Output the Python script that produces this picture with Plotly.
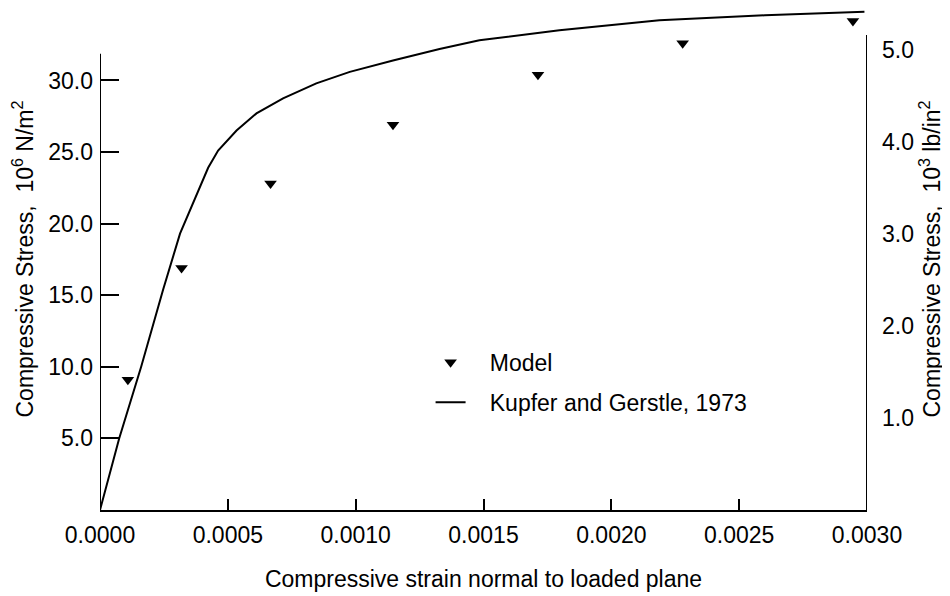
import plotly.graph_objects as go

# model points (strain, stress in 10^6 N/m^2)
model_strain = [0.000109, 0.000319, 0.000667, 0.001146, 0.001713, 0.002279, 0.002945]
model_stress = [9.1, 16.9, 22.8, 26.9, 30.4, 32.6, 34.15]

# Kupfer and Gerstle, 1973 curve
kg_strain = [0.0, 0.000075, 0.000161, 0.000247, 0.000313, 0.000391, 0.000423, 0.000462,
             0.000534, 0.000612, 0.000716, 0.000846, 0.000977, 0.001146, 0.001328,
             0.001484, 0.001797, 0.002188, 0.0026, 0.00299]
kg_stress = [0.0, 5.0, 10.0, 15.4, 19.3, 22.6, 23.9, 25.1,
             26.5, 27.7, 28.75, 29.8, 30.6, 31.4, 32.2,
             32.8, 33.5, 34.2, 34.55, 34.8]

x_ticks = [0.0, 0.0005, 0.0010, 0.0015, 0.0020, 0.0025, 0.0030]
left_ticks = [5, 10, 15, 20, 25, 30]
right_ticks = [1, 2, 3, 4, 5]

font = dict(family="Liberation Sans, Arial, Helvetica, sans-serif", size=23, color="black")
gap = "\u00a0\u00a0\u00a0"

fig = go.Figure()
fig.add_trace(go.Scatter(
    x=model_strain, y=model_stress, mode="markers", name=gap + "Model",
    legendgroup="a",
    marker=dict(symbol="triangle-down", size=11, color="black"),
    cliponaxis=False,
))
fig.add_trace(go.Scatter(
    x=kg_strain, y=kg_stress, mode="lines", name=gap + "Kupfer and Gerstle, 1973",
    legendgroup="b",
    line=dict(color="black", width=2),
))
# empty trace so the right-hand (lb/in^2) axis is drawn
fig.add_trace(go.Scatter(x=[None], y=[None], yaxis="y2", showlegend=False,
                         hoverinfo="skip"))

# axis lines of different heights, as in the original figure
fig.add_shape(type="line", xref="x", yref="y", x0=0, x1=0, y0=0, y1=31.87,
              line=dict(color="black", width=2))
fig.add_shape(type="line", xref="x", yref="y", x0=0.003, x1=0.003, y0=0, y1=33.17,
              line=dict(color="black", width=2))

fig.update_layout(
    width=942, height=588,
    margin=dict(l=92, r=83, t=0, b=86, autoexpand=False),
    paper_bgcolor="white", plot_bgcolor="white",
    font=font,
    legend=dict(x=0.431, y=0.337, xanchor="left", yanchor="top",
                font=font, bgcolor="rgba(0,0,0,0)",
                traceorder="grouped", tracegroupgap=7),
    xaxis=dict(
        range=[0, 0.003], tickvals=x_ticks, tickformat=".4f",
        showline=True, linecolor="black", linewidth=2,
        ticks="inside", ticklen=11, tickwidth=2, tickcolor="black",
        showgrid=False, zeroline=False, ticklabelstandoff=3,
        title=dict(text="Compressive strain normal to loaded plane", standoff=24, font=font),
    ),
    yaxis=dict(
        range=[0, 35.06], tickvals=left_ticks, tickformat=".1f",
        showline=False, ticks="inside", ticklen=19, tickwidth=2, tickcolor="black",
        showgrid=False, zeroline=False, ticklabelstandoff=6,
        title=dict(text="Compressive Stress,  10<sup>6</sup> N/m<sup>2</sup>", standoff=12, font=font),
    ),
    yaxis2=dict(
        overlaying="y", side="right", range=[0, 5.457], tickvals=right_ticks,
        tickformat=".1f", ticks="", showline=False, showgrid=False, zeroline=False,
        ticklabelstandoff=14,
        title=dict(text="Compressive Stress,  10<sup>3</sup> lb/in<sup>2</sup>", standoff=10, font=font),
    ),
)

fig.write_html("out.html")
